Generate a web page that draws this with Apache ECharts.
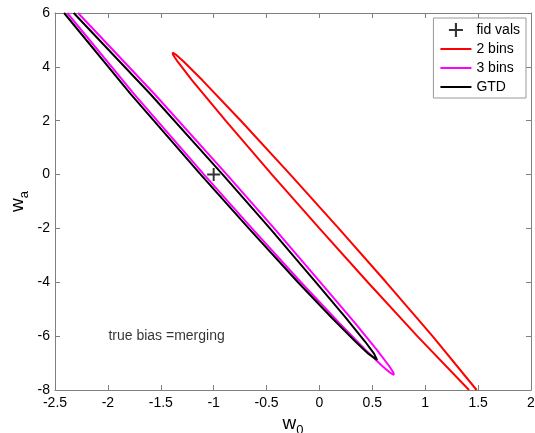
<!DOCTYPE html>
<html>
<head>
<meta charset="utf-8">
<script src="https://cdn.jsdelivr.net/npm/echarts@6/dist/echarts.min.js"></script>
<style>
html, body { margin: 0; padding: 0; background: #fff; }
#chart { width: 535px; height: 433px; }
</style>
</head>
<body>
<div id="chart"></div>
<script>
// contours (w0, wa), clipped by the axes box
const bins2W0 = [1.414, 0.925, 0.457, 0.000, -0.449, -0.887, -1.204, -1.342, -1.384, -1.388, -1.356, -1.284, -1.106, -0.743, -0.275, 0.182, 0.631, 1.069, 1.486]
const bins2Wa = [-8, -6, -4, -2, 0, 2, 3.5, 4.2, 4.45, 4.53, 4.45, 4.2, 3.5, 2, 0, -2, -4, -6, -8]

const bins3W0 = [-2.384, -1.754, -1.091, -0.638, -0.175, 0.185, 0.433, 0.591, 0.665, 0.703, 0.699, 0.657, 0.541, 0.333, 0.009, -0.428, -0.875, -1.562, -2.282]
const bins3Wa = [6, 3, 0, -2, -4, -5.5, -6.5, -7.1, -7.35, -7.44, -7.35, -7.1, -6.5, -5.5, -4, -2, 0, 3, 6]

const gtdW0 = [-2.414, -1.786, -1.122, -0.668, -0.203, 0.112, 0.340, 0.462, 0.545, 0.516, 0.431, 0.246, -0.033, -0.468, -0.914, -1.601, -2.323]
const gtdWa = [6, 3, 0, -2, -4, -5.3, -6.2, -6.65, -6.885, -6.65, -6.2, -5.3, -4, -2, 0, 3, 6]

const fidW0 = [-1]
const fidWa = [0]

const noteW0 = -2
const noteWa = -6
const noteText = 'true bias =merging'

const seriesNames = ['fid vals', '2 bins', '3 bins', 'GTD']

const zip = (a, b) => a.map((v, i) => [v, b[i]])

const font = '"Liberation Sans", Arial, sans-serif'
const axisGrey = '#808080'
const plusPath = 'path://M0,8.5H20V11.5H0Z M8.5,0H11.5V20H8.5Z'

const chart = echarts.init(document.getElementById('chart'))

const baseX = {
  type: 'value',
  min: -2.5,
  max: 2,
  interval: 0.5,
  axisLine: { show: true, onZero: false, lineStyle: { color: axisGrey, width: 1 } },
  axisTick: { show: true, inside: true, length: 5, lineStyle: { color: axisGrey } },
  splitLine: { show: false }
}
const baseY = {
  type: 'value',
  min: -8,
  max: 6,
  interval: 2,
  axisLine: { show: true, onZero: false, lineStyle: { color: axisGrey, width: 1 } },
  axisTick: { show: true, inside: true, length: 5, lineStyle: { color: axisGrey } },
  splitLine: { show: false }
}

const nameRich = {
  w: { fontSize: 19, fontFamily: font, color: '#000' },
  s: { fontSize: 13, fontFamily: font, color: '#000', padding: [14, 0, 0, 0] }
}

// hide the dot ECharts puts on line legend icons
const noDot = { opacity: 0 }

const option = {
  animation: false,
  backgroundColor: '#fff',
  grid: { left: 55, right: 4, top: 13, bottom: 43, outerBoundsMode: 'none' },
  textStyle: { fontFamily: font },
  xAxis: [
    Object.assign({}, baseX, {
      position: 'bottom',
      axisLabel: { color: '#000', fontSize: 14, margin: 6, fontFamily: font },
      name: '{w|w}{s|0}',
      nameLocation: 'middle',
      nameGap: 20,
      nameMoveOverlap: false,
      nameTextStyle: { rich: nameRich }
    }),
    Object.assign({}, baseX, { position: 'top', axisLabel: { show: false } })
  ],
  yAxis: [
    Object.assign({}, baseY, {
      position: 'left',
      axisLabel: { color: '#000', fontSize: 14, margin: 5, fontFamily: font },
      name: '{w|w}{s|a}',
      nameLocation: 'middle',
      nameRotate: 90,
      nameGap: 24,
      nameMoveOverlap: false,
      nameTextStyle: { rich: nameRich }
    }),
    Object.assign({}, baseY, { position: 'right', axisLabel: { show: false } })
  ],
  legend: {
    data: [
      { name: seriesNames[0] },
      { name: seriesNames[1], itemStyle: noDot },
      { name: seriesNames[2], itemStyle: noDot },
      { name: seriesNames[3], itemStyle: noDot }
    ],
    orient: 'vertical',
    right: 9,
    top: 18,
    itemWidth: 31,
    itemHeight: 14,
    itemGap: 5,
    padding: [5, 6, 4, 6],
    backgroundColor: '#fff',
    borderColor: '#999',
    borderWidth: 1,
    borderRadius: 0,
    textStyle: { color: '#000', fontSize: 14, fontFamily: font }
  },
  series: [
    {
      name: seriesNames[0],
      type: 'scatter',
      data: zip(fidW0, fidWa),
      symbol: plusPath,
      symbolSize: 13,
      itemStyle: { color: '#000' },
      z: 5
    },
    {
      name: seriesNames[1],
      type: 'line',
      data: zip(bins2W0, bins2Wa),
      symbol: 'none',
      lineStyle: { color: '#ff0000', width: 2 },
      itemStyle: { color: '#ff0000' }
    },
    {
      name: seriesNames[2],
      type: 'line',
      data: zip(bins3W0, bins3Wa),
      symbol: 'none',
      lineStyle: { color: '#ff00ff', width: 2 },
      itemStyle: { color: '#ff00ff' }
    },
    {
      name: seriesNames[3],
      type: 'line',
      data: zip(gtdW0, gtdWa),
      symbol: 'none',
      lineStyle: { color: '#000', width: 2 },
      itemStyle: { color: '#000' }
    },
    {
      name: 'note',
      type: 'scatter',
      data: [[noteW0, noteWa]],
      symbolSize: 1,
      silent: true,
      itemStyle: { color: 'rgba(0,0,0,0)' },
      label: {
        show: true,
        position: 'right',
        distance: 0,
        formatter: noteText,
        color: '#000',
        fontSize: 14,
        fontFamily: font
      }
    }
  ]
}

chart.setOption(option)
</script>
</body>
</html>
